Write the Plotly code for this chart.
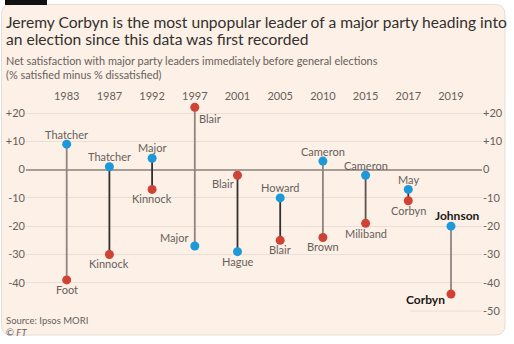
import plotly.graph_objects as go

# ---------------- data ----------------
years = ["1983", "1987", "1992", "1997", "2001", "2005", "2010", "2015", "2017", "2019"]
con_names = ["Thatcher", "Thatcher", "Major", "Major", "Hague", "Howard", "Cameron", "Cameron", "May", "Johnson"]
con_values = [9, 1, 4, -27, -29, -10, 3, -2, -7, -20]
lab_names = ["Foot", "Kinnock", "Kinnock", "Blair", "Blair", "Blair", "Brown", "Miliband", "Corbyn", "Corbyn"]
lab_values = [-39, -30, -7, 22, -2, -25, -24, -19, -11, -44]
left_ticks = [20, 10, 0, -10, -20, -30, -40]
right_ticks = [20, 10, 0, -10, -20, -30, -40, -50]

# ---------------- styles ----------------
W, H = 514, 344
ML, MR, MT, MB = 26, 32, 103, 26
PW, PH = W - ML - MR, H - MT - MB
BG = "#fdf0e6"
BLUE = "#1d98d8"
RED = "#cf4336"
GREY_TXT = "#66605c"
DARK = "#33302e"
GRID = "#eadfd5"
ZERO = "#a79d96"
FONT = "Lato"

stem_colors = ["#8f8580", DARK, DARK, "#8f8580", DARK, DARK, "#8f8580", "#5a5350", DARK, "#8f8580"]

# label placement: (xanchor, xshift, yshift)
con_pos = [("center", 0, 10), ("center", 0, 10), ("center", 0, 11), ("right", -5, 8), ("center", 0, -10),
           ("center", 0, 10), ("center", 0, 10), ("center", 0, 10), ("center", 0, 10), ("center", 6, 11)]
lab_pos = [("center", 0, -10), ("center", 0, -9), ("center", 0, -9), ("left", 2, -11), ("right", -2, -8),
           ("center", 0, -9), ("center", 0, -9), ("center", 0, -10), ("center", 0, -10), ("right", -4, -5)]

# axis ranges from pixel targets
ZERO_PX, K = 169.6, 2.829
y_top = (ZERO_PX - MT) / K
y_bot = (ZERO_PX - (H - MB)) / K
X0_PX, DX = 66.7, 42.7
x_left = (ML - X0_PX) / DX
x_right = (W - MR - X0_PX) / DX


def px(x):
    return (x - ML) / PW


def py(y):
    return 1 - (y - MT) / PH


def fmt(v):
    return f"+{v}" if v > 0 else str(v)


idx = list(range(len(years)))
fig = go.Figure()

for i in idx:
    fig.add_trace(go.Scatter(x=[i, i], y=[con_values[i], lab_values[i]], mode="lines",
                             line=dict(color=stem_colors[i], width=1.8), hoverinfo="skip",
                             showlegend=False, cliponaxis=False))

fig.add_trace(go.Scatter(x=idx, y=con_values, mode="markers", marker=dict(color=BLUE, size=9),
                         showlegend=False, cliponaxis=False))
fig.add_trace(go.Scatter(x=idx, y=lab_values, mode="markers", marker=dict(color=RED, size=9),
                         showlegend=False, cliponaxis=False))
# right-hand axis
fig.add_trace(go.Scatter(x=[idx[0]], y=[0], mode="markers", marker=dict(opacity=0), yaxis="y2",
                         showlegend=False, hoverinfo="skip"))

annotations = []
for i in idx:
    for names, vals, pos in ((con_names, con_values, con_pos), (lab_names, lab_values, lab_pos)):
        xa, xs, ys = pos[i]
        last = i == len(years) - 1
        annotations.append(dict(x=i, y=vals[i], xref="x", yref="y", text=names[i], showarrow=False,
                                xanchor=xa, yanchor="middle", xshift=xs, yshift=ys,
                                font=dict(family=FONT, size=12 if last else 11,
                                          color="#1a1817" if last else GREY_TXT,
                                          weight="bold" if last else "normal")))

def text(x, y, t, size, color, style="normal", weight="normal"):
    annotations.append(dict(x=px(x), y=py(y), xref="paper", yref="paper", text=t, showarrow=False,
                            xanchor="left", yanchor="middle",
                            font=dict(family=FONT, size=size, color=color, style=style, weight=weight)))

text(4, 22, "Jeremy Corbyn is the most unpopular leader of a major party heading into", 15.6, DARK)
text(4, 39, "an election since this data was first recorded", 15.6, DARK)
text(4, 61, "Net satisfaction with major party leaders immediately before general elections", 10.9, GREY_TXT)
text(4, 75, "(% satisfied minus % dissatisfied)", 10.9, GREY_TXT)
text(4, 320, "Source: Ipsos MORI", 9.5, GREY_TXT)
text(4, 332, "© <i>FT</i>", 9.5, GREY_TXT)

# card background with rounded corners
x1, y1, x2, y2, r = 1.5, 4.5, 505, 335, 10
path = (f"M {px(x1 + r)} {py(y1)} L {px(x2 - r)} {py(y1)} Q {px(x2)} {py(y1)} {px(x2)} {py(y1 + r)} "
        f"L {px(x2)} {py(y2 - r)} Q {px(x2)} {py(y2)} {px(x2 - r)} {py(y2)} "
        f"L {px(x1 + r)} {py(y2)} Q {px(x1)} {py(y2)} {px(x1)} {py(y2 - r)} "
        f"L {px(x1)} {py(y1 + r)} Q {px(x1)} {py(y1)} {px(x1 + r)} {py(y1)} Z")
shapes = [
    dict(type="path", path=path, xref="paper", yref="paper", fillcolor=BG,
         line=dict(color="#e6ddd5", width=1), layer="below"),
    dict(type="rect", xref="paper", yref="paper", x0=px(5), x1=px(47), y0=py(0), y1=py(5),
         fillcolor="#111111", line=dict(width=0), layer="below"),
    dict(type="line", xref="x", yref="y", x0=8.04, x1=x_right, y0=-50, y1=-50,
         line=dict(color=GRID, width=1), layer="below"),
]

fig.update_layout(
    width=W, height=H, margin=dict(l=ML, r=MR, t=MT, b=MB, autoexpand=False),
    paper_bgcolor="white", plot_bgcolor="rgba(0,0,0,0)",
    font=dict(family=FONT, color=GREY_TXT, size=11),
    xaxis=dict(range=[x_left, x_right], side="top", tickvals=idx, ticktext=years, showgrid=False,
               zeroline=False, showline=False, ticks="", automargin=False,
               tickfont=dict(size=11, color=GREY_TXT)),
    yaxis=dict(range=[y_bot, y_top], tickvals=left_ticks, ticktext=[fmt(v) for v in left_ticks],
               showgrid=True, gridcolor=GRID, gridwidth=1, zeroline=True, zerolinecolor=ZERO,
               zerolinewidth=1.5, ticks="", automargin=False, tickfont=dict(size=11, color=GREY_TXT)),
    yaxis2=dict(range=[y_bot, y_top], overlaying="y", side="right", tickvals=right_ticks,
                ticktext=[fmt(v) for v in right_ticks], showgrid=False, zeroline=False, ticks="",
                automargin=False, tickfont=dict(size=11, color=GREY_TXT)),
    annotations=annotations, shapes=shapes, hovermode=False,
)

fig.write_html("out.html")
